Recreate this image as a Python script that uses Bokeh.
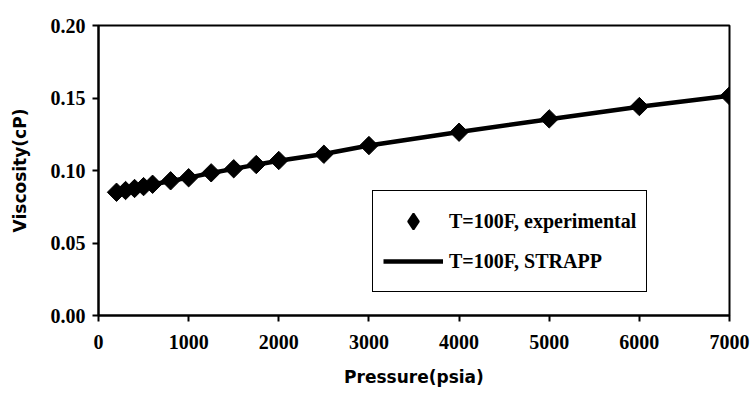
import math
from bokeh.plotting import figure
from bokeh.models import Range1d, FixedTicker, NumeralTickFormatter, Legend, LegendItem
from bokeh.embed import file_html
from bokeh.resources import INLINE

# Experimental data (T=100F)
pressure_exp = [200, 300, 400, 500, 600, 800, 1000, 1250, 1500, 1750, 2000, 2500, 3000, 4000, 5000, 6000, 7000]
visc_exp = [0.0850, 0.0862, 0.0876, 0.0889, 0.0905, 0.0929, 0.0950, 0.0984, 0.1012, 0.1041, 0.1069, 0.1112, 0.1172, 0.1264, 0.1356, 0.1441, 0.1515]

# STRAPP model (T=100F)
pressure_model = [200, 300, 400, 500, 600, 800, 1000, 1250, 1500, 1750, 2000, 2500, 3000, 4000, 5000, 6000, 7000]
visc_model = [0.0852, 0.0864, 0.0877, 0.0889, 0.0903, 0.0928, 0.0951, 0.0983, 0.1011, 0.1040, 0.1067, 0.1114, 0.1172, 0.1265, 0.1354, 0.1440, 0.1516]

x_ticks = [0, 1000, 2000, 3000, 4000, 5000, 6000, 7000]
y_ticks = [0.0, 0.05, 0.10, 0.15, 0.20]

p = figure(width=751, height=395, output_backend="svg", toolbar_location=None,
           x_range=Range1d(0, 7000), y_range=Range1d(0, 0.2),
           min_border_left=98, min_border_right=22, min_border_top=25, min_border_bottom=80)
p.xgrid.visible = False
p.ygrid.visible = False
p.outline_line_color = "black"
p.outline_line_width = 2
p.background_fill_color = "white"
p.border_fill_color = "white"

line_r = p.line(pressure_model, visc_model, line_color="black", line_width=4.5)
pts_r = p.scatter(pressure_exp, visc_exp, marker="square", angle=math.pi / 4, size=13,
                  fill_color="black", line_color="black")
# hidden legend proxy so that the legend shows an upright diamond
legend_diamond = p.scatter(pressure_exp, visc_exp, marker="diamond", fill_color="black",
                           line_color="black", line_width=2, visible=False)

for ax in (p.xaxis[0], p.yaxis[0]):
    ax.axis_line_color = "black"
    ax.axis_line_width = 2
    ax.major_tick_line_color = "black"
    ax.major_tick_line_width = 2
    ax.minor_tick_line_color = None
    ax.major_tick_in = 0
    ax.major_tick_out = 6
    ax.major_label_text_font = "Liberation Serif"
    ax.major_label_text_font_style = "bold"
    ax.major_label_text_font_size = "20px"
    ax.major_label_text_color = "black"
    ax.axis_label_text_font = "DejaVu Sans"
    ax.axis_label_text_font_style = "bold"
    ax.axis_label_text_font_size = "17px"
    ax.axis_label_text_color = "black"

p.xaxis.ticker = FixedTicker(ticks=x_ticks)
p.yaxis.ticker = FixedTicker(ticks=y_ticks)
p.yaxis.formatter = NumeralTickFormatter(format="0.00")
p.xaxis.axis_label = "Pressure(psia)"
p.yaxis.axis_label = "Viscosity(cP)"
p.xaxis.major_label_standoff = 13
p.yaxis.major_label_standoff = 7
p.xaxis.axis_label_standoff = 15
p.yaxis.axis_label_standoff = 18

legend = Legend(items=[LegendItem(label="T=100F, experimental", renderers=[legend_diamond]),
                       LegendItem(label="T=100F, STRAPP", renderers=[line_r])],
                location=(274, 23), border_line_color="black", border_line_width=1.5,
                border_line_alpha=1.0,
                background_fill_color="white", background_fill_alpha=1,
                padding=10, spacing=0, glyph_width=60, glyph_height=40,
                label_standoff=6, margin=0,
                label_text_font="Liberation Serif", label_text_font_style="bold",
                label_text_font_size="20px", label_text_color="black")
p.add_layout(legend, "center")

open("out.html", "w").write(file_html(p, INLINE))
